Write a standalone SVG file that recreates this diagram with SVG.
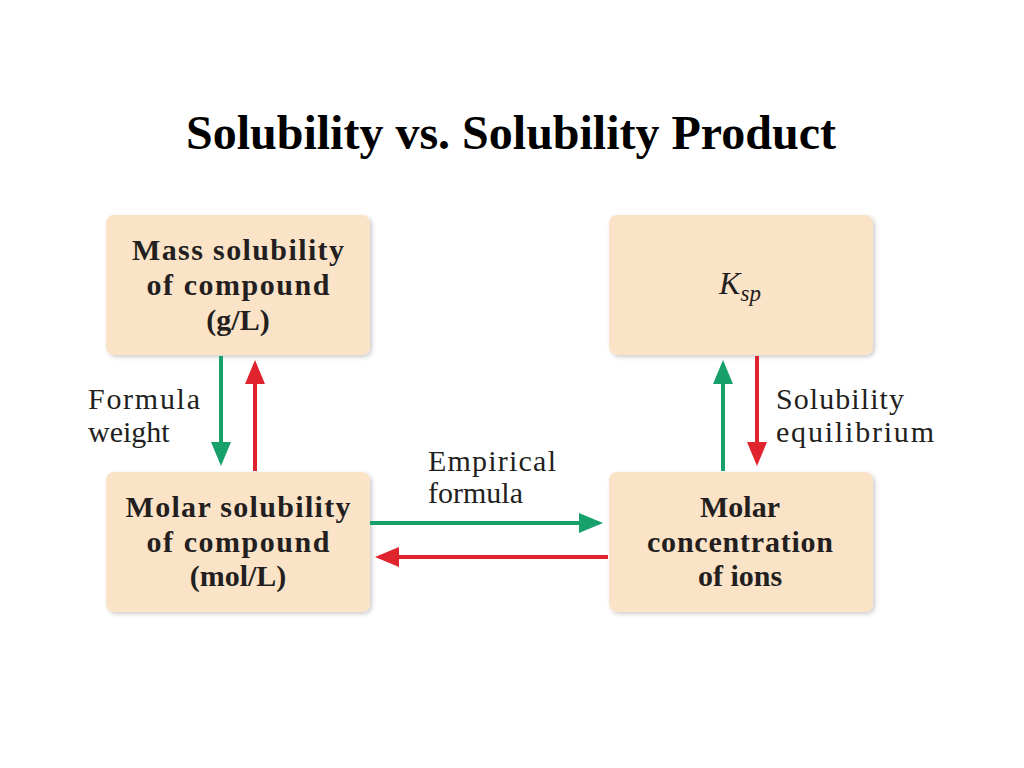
<svg xmlns="http://www.w3.org/2000/svg" width="1024" height="768" viewBox="0 0 1024 768">
<style>
.box{fill:#fbe3c8;filter:url(#sh)}
.bt{font-family:"Liberation Serif",serif;font-weight:bold;font-size:30px;fill:#231f20;text-anchor:middle}
.lt{font-family:"Liberation Serif",serif;font-size:30px;fill:#231f20}
.g{stroke:#17a06a;stroke-width:4;fill:none}
.r{stroke:#e0242e;stroke-width:4;fill:none}
</style>
<defs>
<filter id="sh" x="-10%" y="-10%" width="120%" height="120%"><feDropShadow dx="2" dy="2" stdDeviation="2" flood-color="#000" flood-opacity="0.2"/></filter>
<marker id="ag" markerWidth="6" markerHeight="5" refX="5" refY="2.5" orient="auto"><path d="M0,0 L6,2.5 L0,5 Z" fill="#17a06a"/></marker>
<marker id="ar" markerWidth="6" markerHeight="5" refX="5" refY="2.5" orient="auto"><path d="M0,0 L6,2.5 L0,5 Z" fill="#e0242e"/></marker>
</defs>
<rect width="1024" height="768" fill="#fff"/>
<text x="511" y="149" font-family="Liberation Serif,serif" font-weight="bold" font-size="48" text-anchor="middle" fill="#000">Solubility vs. Solubility Product</text>
<g id="mass"><rect class="box" x="106" y="215" width="264" height="140" rx="8"/>
<text class="bt" x="238" y="260" textLength="212">Mass solubility</text><text class="bt" x="238" y="295" textLength="183">of compound</text><text class="bt" x="238" y="330">(g/L)</text></g>
<g id="ksp"><rect class="box" x="609" y="215" width="264" height="140" rx="8"/>
<text x="740" y="294" font-family="Liberation Serif,serif" font-style="italic" font-size="32" fill="#231f20" text-anchor="middle">K<tspan font-size="23" dy="7">sp</tspan></text></g>
<g id="molar"><rect class="box" x="106" y="472" width="264" height="140" rx="8"/>
<text class="bt" x="238" y="517" textLength="225">Molar solubility</text><text class="bt" x="238" y="552" textLength="183">of compound</text><text class="bt" x="238" y="586">(mol/L)</text></g>
<g id="ions"><rect class="box" x="609" y="472" width="264" height="140" rx="8"/>
<text class="bt" x="740" y="517">Molar</text><text class="bt" x="740" y="552" textLength="186">concentration</text><text class="bt" x="740" y="586">of ions</text></g>
<g id="connectors">
<line class="g" x1="221" y1="356" x2="221" y2="462" marker-end="url(#ag)"/>
<line class="r" x1="255" y1="471" x2="255" y2="364" marker-end="url(#ar)"/>
<line class="g" x1="723" y1="471" x2="723" y2="364" marker-end="url(#ag)"/>
<line class="r" x1="757" y1="356" x2="757" y2="462" marker-end="url(#ar)"/>
<line class="g" x1="370" y1="523" x2="599" y2="523" marker-end="url(#ag)"/>
<line class="r" x1="608" y1="557" x2="379" y2="557" marker-end="url(#ar)"/>
</g>
<g id="labels">
<text class="lt" x="88" y="409" textLength="112">Formula</text><text class="lt" x="88" y="442">weight</text>
<text class="lt" x="776" y="409" textLength="128">Solubility</text><text class="lt" x="776" y="442" textLength="158">equilibrium</text>
<text class="lt" x="428" y="471" textLength="128">Empirical</text><text class="lt" x="428" y="503">formula</text>
</g>
</svg>
